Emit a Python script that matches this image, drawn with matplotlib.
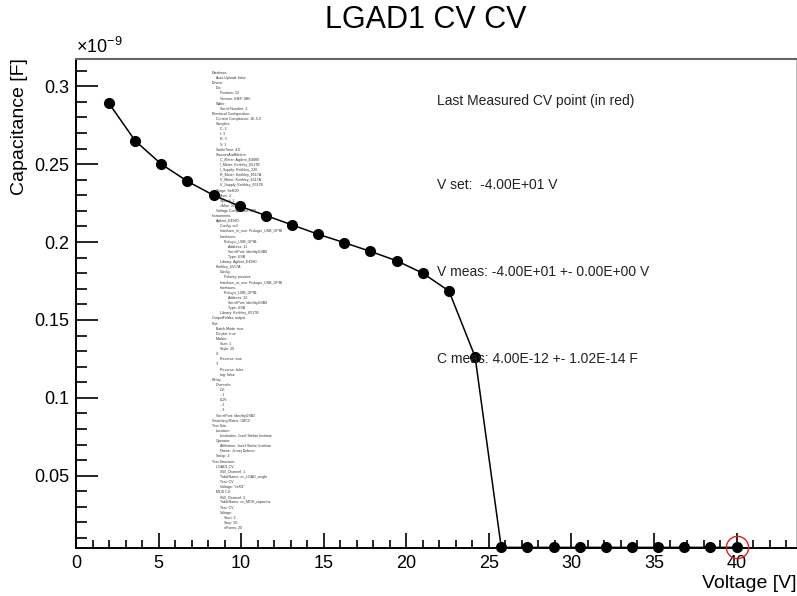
import matplotlib
matplotlib.use('Agg')
import matplotlib.pyplot as plt
from matplotlib.ticker import MultipleLocator, FuncFormatter

plt.rcParams['font.family'] = ['Liberation Sans', 'DejaVu Sans']
plt.rcParams['mathtext.fontset'] = 'custom'
plt.rcParams['mathtext.rm'] = 'Liberation Sans'
plt.rcParams['mathtext.it'] = 'Liberation Sans'

# data: 25 voltage steps from 2 V to 40 V, capacitance in units of 1e-9 F
voltage = [2 + i * 38 / 24 for i in range(25)]
capacitance = [0.289, 0.265, 0.250, 0.239, 0.230, 0.223, 0.217, 0.211,
               0.205, 0.1996, 0.194, 0.188, 0.180, 0.1686, 0.1264,
               0.004, 0.004, 0.004, 0.004, 0.004, 0.004, 0.004, 0.004,
               0.004, 0.004]
last_v = 40.0
last_c = 0.004

title = 'LGAD1 CV CV'
info_lines = ['Last Measured CV point (in red)',
              'V set:  -4.00E+01 V',
              'V meas: -4.00E+01 +- 0.00E+00 V',
              'C meas: 4.00E-12 +- 1.02E-14 F']

# (indent level, text) of the configuration dump
config = [
    (0, 'Database:'), (1, 'Auto Upload: false'), (0, 'Device:'), (1, 'Die:'),
    (2, 'Position: 32'), (2, 'Version: IHEP-SB5'), (1, 'Wafer:'),
    (2, 'Serial Number: 3'), (0, 'Electrical Configuration:'),
    (1, 'Current Compliance: 1E-5.0'), (1, 'Samples:'), (2, 'C: 3'),
    (2, 'I: 3'), (2, 'R: 3'), (2, 'V: 1'), (1, 'SettleTime: 4.0'),
    (1, 'SourcesAndMeters:'), (2, 'C_Meter: Agilent_E4980'),
    (2, 'I_Meter: Keithley_6517B'), (2, 'I_Supply: Keithley_220'),
    (2, 'R_Meter: Keithley_6517A'), (2, 'V_Meter: Keithley_6517A'),
    (2, 'V_Supply: Keithley_6517B'), (1, 'Stage: Sel600'), (2, 'Axis: 2'),
    (2, 'Speed: 1'), (2, 'vMax: 300'), (1, 'Voltage Compliance: 600'),
    (0, 'Instruments:'), (1, 'Agilent_E4980:'), (2, 'Config: null'),
    (2, 'Interface_in_use: Prologix_USB_GPIB'), (2, 'Interfaces:'),
    (3, 'Prologix_USB_GPIB:'), (4, 'Address: 11'),
    (4, 'SerialPort: /dev/ttyUSB0'), (4, 'Type: USB'),
    (2, 'Library: Agilent_E4980'), (1, 'Keithley_6517A:'), (2, 'Config:'),
    (3, 'Polarity: positive'), (2, 'Interface_in_use: Prologix_USB_GPIB'),
    (2, 'Interfaces:'), (3, 'Prologix_USB_GPIB:'), (4, 'Address: 22'),
    (4, 'SerialPort: /dev/ttyUSB0'), (4, 'Type: USB'),
    (2, 'Library: Keithley_6517B'), (0, 'OutputFolder: output'), (0, 'Plot:'),
    (1, 'Batch Mode: true'), (1, 'Do plot: true'), (1, 'Marker:'),
    (2, 'Size: 1'), (2, 'Style: 20'), (1, 'X:'), (2, 'Reverse: true'),
    (1, 'Y:'), (2, 'Reverse: false'), (2, 'log: false'), (0, 'Relay:'),
    (1, 'Channels:'), (2, 'CV:'), (2, '- 1'), (2, 'LCR:'), (2, '- 2'),
    (2, '- 3'), (1, 'SerialPort: /dev/ttyUSB2'), (0, 'Switching Matrix: UBCC'),
    (0, 'Test Site:'), (1, 'Location:'),
    (2, 'Institution: Jozef Stefan Institute'), (1, 'Operator:'),
    (2, 'Affiliation: Jozef Stefan Institute'), (2, 'Name: Jernej Debevc'),
    (1, 'Setup: 2'), (0, 'Test Structure:'), (1, 'LGAD1 CV:'),
    (2, 'SW_Channel: 1'), (2, 'TableName: cv_LGAD_single'), (2, 'Test: CV'),
    (2, 'Voltage: "ref01"'), (1, 'MOS CV:'), (2, 'SW_Channel: 2'),
    (2, 'TableName: cv_MOS_capacitor'), (2, 'Test: CV'), (2, 'Voltage:'),
    (3, 'Start: 2'), (3, 'Stop: 30'), (3, 'nPoints: 20'),
]

W, H = 797, 596
fig = plt.figure(figsize=(W / 100, H / 100), dpi=100)
ax = fig.add_axes([76 / W, 1 - 548 / H, 720 / W, 489 / H])

ax.plot(voltage, capacitance, color='black', lw=1.1, marker='o',
        markersize=7, zorder=3, clip_on=False)
ax.plot([last_v], [last_c], marker='o', markersize=16, mfc='none',
        mec='#e02020', mew=1.0, zorder=4, clip_on=False)

ax.set_xlim(0, 43.6)
ax.set_ylim(0.0036, 0.3175)
ax.xaxis.set_major_locator(MultipleLocator(5))
ax.xaxis.set_minor_locator(MultipleLocator(1))
ax.yaxis.set_major_locator(MultipleLocator(0.05))
ax.yaxis.set_minor_locator(MultipleLocator(0.01))
ax.yaxis.set_major_formatter(FuncFormatter(lambda v, _: f'{v:g}'))
ax.tick_params(axis='both', which='both', direction='in', colors='black',
               labelsize=13, width=1.2)
ax.tick_params(axis='x', which='major', length=11, pad=5)
ax.tick_params(axis='x', which='minor', length=5.5)
ax.tick_params(axis='y', which='major', length=16, pad=5)
ax.tick_params(axis='y', which='minor', length=8)
for s in ['left', 'bottom']:
    ax.spines[s].set_linewidth(1.4)
ax.spines['top'].set_color('#666666')
ax.spines['top'].set_linewidth(1.5)
ax.spines['right'].set_color('#bbbbbb')
ax.spines['right'].set_linewidth(0.8)

fig.text(426 / W, 1 - 20 / H, title, ha='center', va='center', fontsize=22)
fig.text(76 / W, 1 - 47 / H, r'$\times10^{-9}$', ha='left', va='center',
         fontsize=13)
fig.text(20 / W, 1 - 58 / H, 'Capacitance [F]', rotation=90, ha='center',
         va='top', fontsize=14)
fig.text(797 / W, 1 - 583 / H, 'Voltage [V]', ha='right', va='center',
         fontsize=14)

info_y = [101, 185, 272, 359]
for txt, y in zip(info_lines, info_y):
    fig.text(437 / W, 1 - y / H, txt, ha='left', va='center', fontsize=10,
             color='#222222')

top, bottom = 73, 528
n = len(config)
for i, (lvl, txt) in enumerate(config):
    y = top + i * (bottom - top) / (n - 1)
    fig.text((212 + lvl * 4) / W, 1 - y / H, txt, ha='left', va='center',
             fontsize=2.6, color='#333333')

fig.savefig('out.png', dpi=100, facecolor='white')
